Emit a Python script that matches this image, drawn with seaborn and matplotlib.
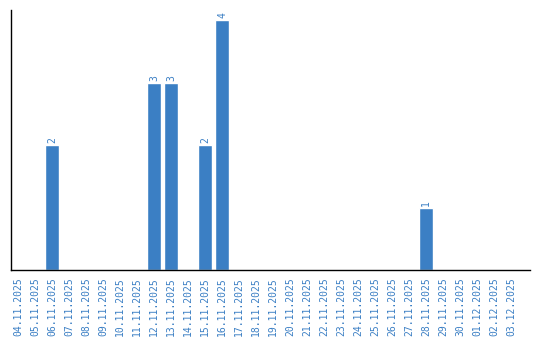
import matplotlib
matplotlib.use("Agg")
import matplotlib.pyplot as plt
import seaborn as sns
import pandas as pd

dates = ["04.11.2025", "05.11.2025", "06.11.2025", "07.11.2025", "08.11.2025",
         "09.11.2025", "10.11.2025", "11.11.2025", "12.11.2025", "13.11.2025",
         "14.11.2025", "15.11.2025", "16.11.2025", "17.11.2025", "18.11.2025",
         "19.11.2025", "20.11.2025", "21.11.2025", "22.11.2025", "23.11.2025",
         "24.11.2025", "25.11.2025", "26.11.2025", "27.11.2025", "28.11.2025",
         "29.11.2025", "30.11.2025", "01.12.2025", "02.12.2025", "03.12.2025"]
counts = [0, 0, 2, 0, 0, 0, 0, 0, 3, 3, 0, 2, 4, 0, 0,
          0, 0, 0, 0, 0, 0, 0, 0, 0, 1, 0, 0, 0, 0, 0]

BLUE = "#3b7fc4"
sns.set_style("white")
plt.rcParams['font.family'] = ['DejaVu Sans Mono']

df = pd.DataFrame({"date": dates, "count": counts})
fig = plt.figure(figsize=(5.4, 3.4), dpi=100)
ax = fig.add_axes([10.5 / 540, 70 / 340, (530 - 10.5) / 540, 260 / 340])
sns.barplot(data=df, x="date", y="count", order=dates, color=BLUE,
            saturation=1, width=0.82, ax=ax)
ax.set_xlim(-0.46, 30.1)
ax.set_ylim(0, 4.16)
ax.set_xlabel("")
ax.set_ylabel("")
ax.set_yticks([])
ax.tick_params(axis="x", labelrotation=90, labelsize=7, labelcolor=BLUE,
               length=0, pad=5)
for s in ["top", "right"]:
    ax.spines[s].set_visible(False)
for s in ["left", "bottom"]:
    ax.spines[s].set_color("black")
    ax.spines[s].set_linewidth(1)

for i, v in enumerate(counts):
    if v > 0:
        ax.text(i, v + 0.03, str(v), rotation=90, ha="center", va="bottom",
                fontsize=7, color=BLUE)

fig.savefig("out.png", dpi=100)
